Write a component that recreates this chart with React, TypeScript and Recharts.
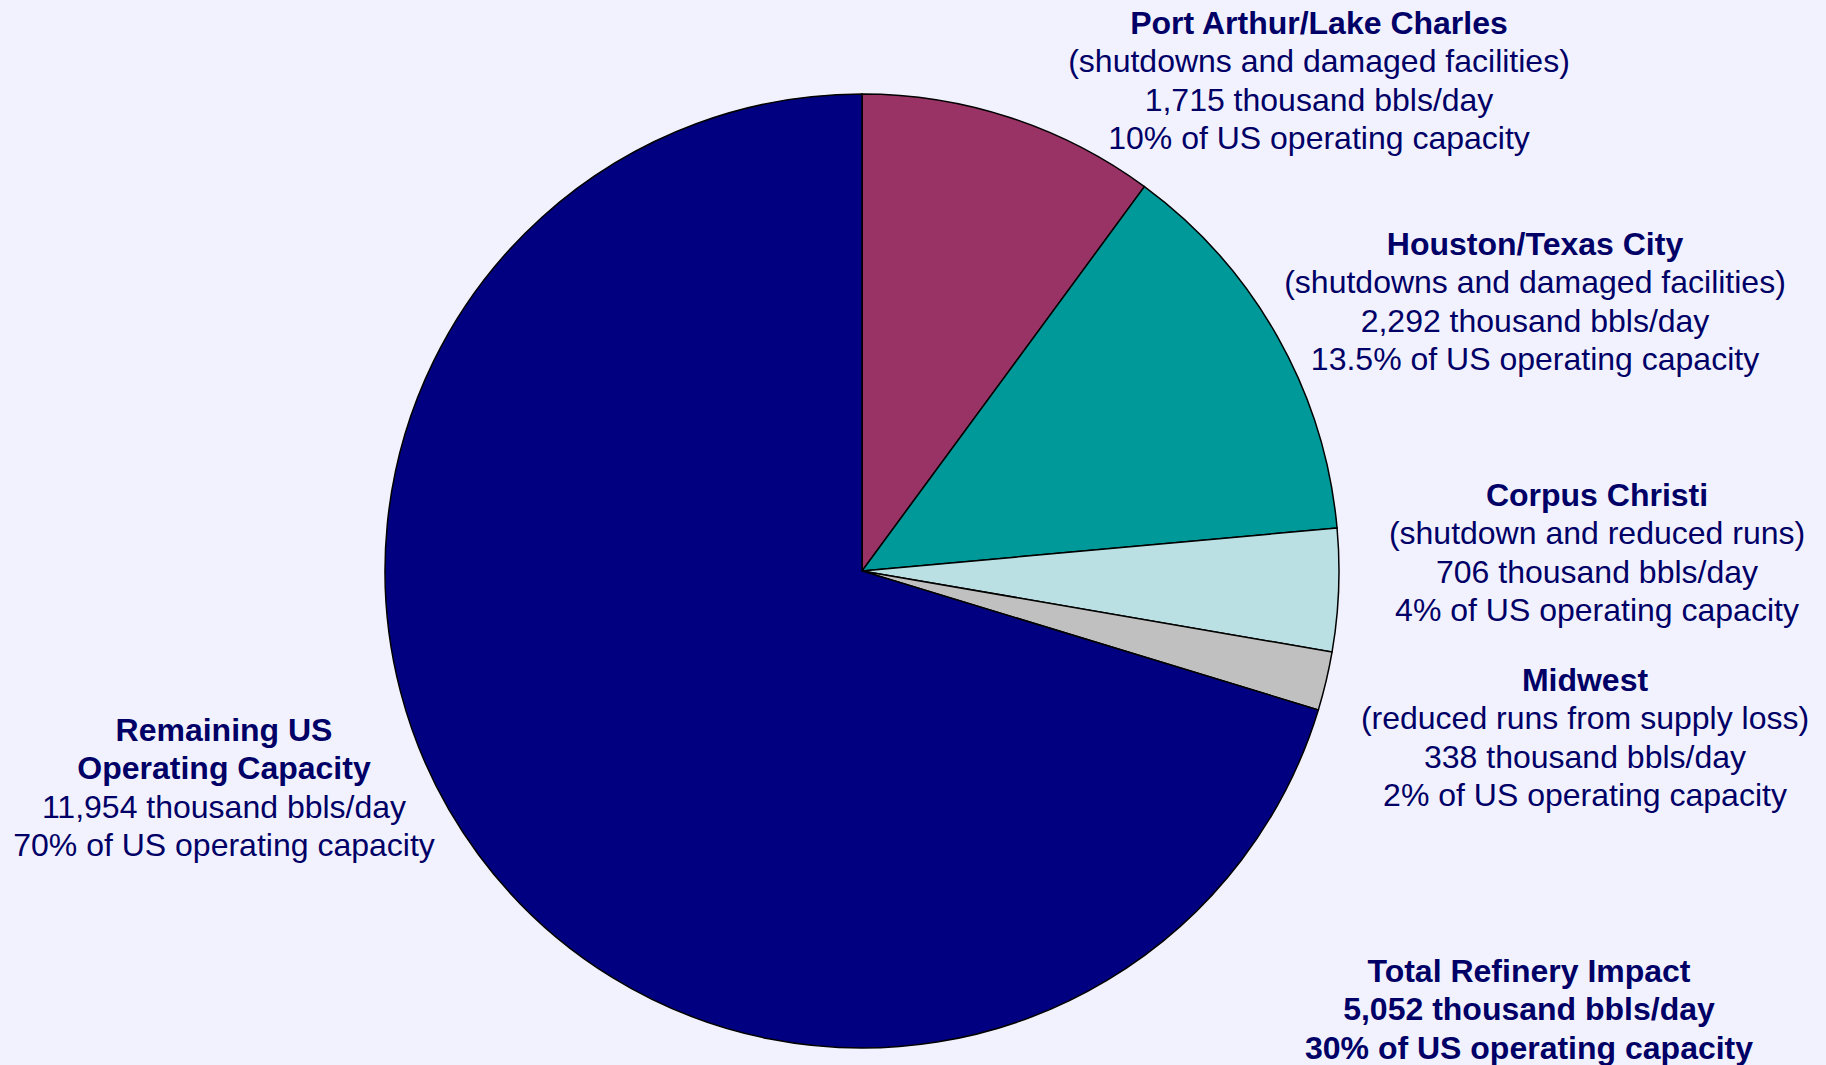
import React from 'react';
import { PieChart, Pie, Cell, Customized } from 'recharts';

const regions = ['Port Arthur/Lake Charles', 'Houston/Texas City', 'Corpus Christi', 'Midwest', 'Remaining US Operating Capacity'];
const capacity = [1715, 2292, 706, 338, 11954];
const reasons = ['(shutdowns and damaged facilities)', '(shutdowns and damaged facilities)', '(shutdown and reduced runs)', '(reduced runs from supply loss)', ''];
const shareText = ['10%', '13.5%', '4%', '2%', '70%'];
const totalImpact = { value: 5052, share: '30%' };

const colors = ['#993366', '#009999', '#BBE0E3', '#C0C0C0', '#000080'];
const TEXT = '#000066';
const BG = '#F2F2FE';
const FONT = '"Liberation Sans", Arial, sans-serif';
const FS = 32;
const LH = 38.4;

// label block layout: center x, first line center y
const labelPos = [
  { x: 1319, y: 23 },
  { x: 1535, y: 244 },
  { x: 1597, y: 495 },
  { x: 1585, y: 680 },
  { x: 224, y: 730 },
];

const data = regions.map((name, i) => ({ name, value: capacity[i] }));

const fmt = (v: number) => v.toLocaleString('en-US');

function linesFor(i: number): { t: string; bold: boolean }[] {
  if (i === 4) {
    return [
      { t: 'Remaining US', bold: true },
      { t: 'Operating Capacity', bold: true },
      { t: `${fmt(capacity[i])} thousand bbls/day`, bold: false },
      { t: `${shareText[i]} of US operating capacity`, bold: false },
    ];
  }
  return [
    { t: regions[i], bold: true },
    { t: reasons[i], bold: false },
    { t: `${fmt(capacity[i])} thousand bbls/day`, bold: false },
    { t: `${shareText[i]} of US operating capacity`, bold: false },
  ];
}

const Block = ({ x, y, lines }: { x: number; y: number; lines: { t: string; bold: boolean }[] }) => (
  <g>
    {lines.map((l, k) => (
      <text
        key={k}
        x={x}
        y={y + k * LH}
        textAnchor="middle"
        dominantBaseline="central"
        fill={TEXT}
        fontFamily={FONT}
        fontSize={FS}
        fontWeight={l.bold ? 'bold' : 'normal'}
      >
        {l.t}
      </text>
    ))}
  </g>
);

const renderLabel = (props: any) => {
  const i = props.index as number;
  const p = labelPos[i];
  return <Block key={`lbl-${i}`} x={p.x} y={p.y} lines={linesFor(i)} />;
};

const TotalLabel = () => (
  <Block
    x={1529}
    y={971}
    lines={[
      { t: 'Total Refinery Impact', bold: true },
      { t: `${fmt(totalImpact.value)} thousand bbls/day`, bold: true },
      { t: `${totalImpact.share} of US operating capacity`, bold: true },
    ]}
  />
);

export default function App() {
  return (
    <div style={{ position: 'absolute', left: 0, top: 0, width: 1826, height: 1065, background: BG, overflow: 'hidden' }}>
      <PieChart width={1826} height={1065} margin={{ top: 0, right: 0, bottom: 0, left: 0 }}>
        <Pie
          data={data}
          dataKey="value"
          nameKey="name"
          cx={862}
          cy={571}
          outerRadius={477}
          startAngle={90}
          endAngle={-270}
          stroke="#000000"
          strokeWidth={1.5}
          isAnimationActive={false}
          label={renderLabel}
          labelLine={false}
        >
          {data.map((d, i) => (
            <Cell key={d.name} fill={colors[i]} />
          ))}
        </Pie>
        <Customized component={TotalLabel} />
      </PieChart>
    </div>
  );
}
